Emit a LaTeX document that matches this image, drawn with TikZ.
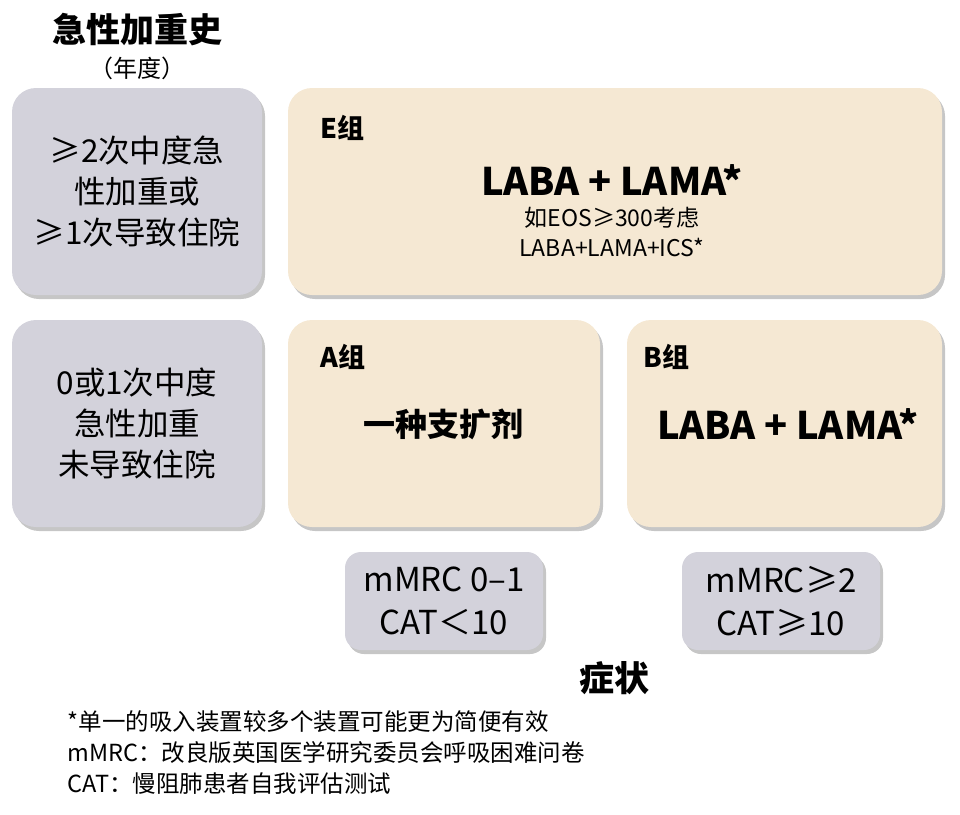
\documentclass[tikz,border=0pt]{standalone}
\usepackage{fontspec}
\setmainfont{Noto Sans CJK SC}
\usetikzlibrary{shadows}
\definecolor{grayb}{HTML}{D3D2DB}
\definecolor{beige}{HTML}{F5E8D3}
\tikzset{
 box/.style={rounded corners=24pt, draw=none, inner sep=0pt, align=center,
   drop shadow={shadow xshift=3pt, shadow yshift=-4pt, opacity=.45}},
 gbox/.style={box, fill=grayb},
 bbox/.style={box, fill=beige},
 big/.style={font=\fontsize{31.5}{41}\selectfont},
 lbl/.style={font=\bfseries\fontsize{27}{30}\selectfont, anchor=west},
}
\begin{document}
\begin{tikzpicture}[x=1pt,y=-1pt]
\useasboundingbox (0,0) rectangle (960,814);
\node[gbox, big, minimum width=250pt, minimum height=207pt] (g1) at (137,191.5) {≥2次中度急\\性加重或\\≥1次导致住院};
\node[bbox, minimum width=654pt, minimum height=207pt] (e) at (615,191.5) {};
\node[gbox, big, minimum width=250pt, minimum height=207pt] (g2) at (137,423.5) {0或1次中度\\急性加重\\未导致住院};
\node[bbox, minimum width=312pt, minimum height=207pt] (a) at (444,423.5) {};
\node[bbox, minimum width=315pt, minimum height=207pt] (b) at (784.5,423.5) {};
\node[gbox, font=\fontsize{33}{43}\selectfont, align=center, rounded corners=16pt, minimum width=198pt, minimum height=98pt] (m1) at (444,601) {mMRC 0–1\\CAT＜10};
\node[gbox, font=\fontsize{33}{43}\selectfont, align=center, rounded corners=16pt, minimum width=198pt, minimum height=98pt] (m2) at (781,601) {mMRC≥2\\CAT≥10};
\node[font=\bfseries\fontsize{34}{38}\selectfont] (t1) at (137,30) {急性加重史};
\node[font=\fontsize{24}{28}\selectfont] (t2) at (137,68) {（年度）};
\node[lbl] (el) at (317,128) {E组};
\node[font=\bfseries\fontsize{38}{42}\selectfont] (et) at (612,180) {LABA + LAMA*};
\node[font=\fontsize{23}{30}\selectfont, align=center] (es) at (612,232) {如EOS≥300考虑\\LABA+LAMA+ICS*};
\node[lbl] (al) at (317,357) {A组};
\node[font=\bfseries\fontsize{32}{36}\selectfont] (at) at (443,424) {一种支扩剂};
\node[lbl] (bl) at (640,357) {B组};
\node[font=\bfseries\fontsize{38}{42}\selectfont] (bt) at (788,424) {LABA + LAMA*};
\node[font=\bfseries\fontsize{35}{38}\selectfont] (s) at (614,678) {症状};
\node[font=\fontsize{23.5}{31}\selectfont, align=left, anchor=north west] (fn) at (64,707) {*单一的吸入装置较多个装置可能更为简便有效\\mMRC：改良版英国医学研究委员会呼吸困难问卷\\CAT：慢阻肺患者自我评估测试};
\end{tikzpicture}
\end{document}
